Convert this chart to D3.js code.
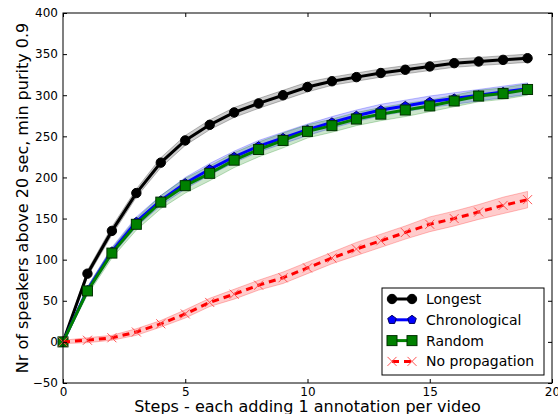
<!DOCTYPE html>
<html>
<head>
<meta charset="utf-8">
<script src="https://d3js.org/d3.v7.min.js"></script>
<style>
  body { margin: 0; background: #fff; }
  text { font-family: "DejaVu Sans", sans-serif; fill: #000; }
</style>
</head>
<body>
<div id="chart"></div>
<script>
var svgWidth = 558;
var svgHeight = 414;

var margin = { top: 13, right: 6, bottom: 31, left: 63 };
var width = svgWidth - margin.left - margin.right;
var height = svgHeight - margin.top - margin.bottom;

// data
var steps = d3.range(0, 20);
var longest = [0, 83, 135, 181, 218, 245, 264, 279, 290, 300, 310, 317, 322, 327, 331, 335, 339, 341, 343, 345];
var longestErr = [1, 4, 5, 5, 6, 6, 6, 6, 6, 6, 6, 5, 5, 5, 5, 5, 5, 5, 5, 5];
var chrono = [0, 63, 110, 146, 172, 193, 210, 225, 238, 248, 258, 267, 275, 282, 287, 292, 296, 300, 304, 308];
var chronoErr = [1, 4, 5, 6, 6, 7, 7, 7, 7, 7, 7, 7, 7, 7, 7, 7, 7, 7, 7, 7];
var random = [0, 62, 108, 143, 170, 190, 205, 221, 234, 245, 256, 263, 271, 277, 282, 287, 293, 299, 302, 307];
var randomErr = [1, 5, 6, 7, 8, 9, 9, 9, 9, 9, 8, 8, 8, 8, 8, 7, 7, 7, 7, 7];
var noprop = [0, 2, 5, 12, 22, 34, 48, 58, 69, 78, 90, 102, 113, 123, 133, 143, 150, 158, 166, 173];
var nopropErr = [2, 3, 3, 4, 4, 5, 5, 6, 6, 7, 7, 7, 8, 8, 8, 9, 9, 9, 10, 10];

var xTicks = [0, 5, 10, 15, 20];
var yTicks = [-50, 0, 50, 100, 150, 200, 250, 300, 350, 400];

var series = [
  { name: "Longest", values: longest, err: longestErr, color: "#000000", marker: "circle", dash: null },
  { name: "Chronological", values: chrono, err: chronoErr, color: "#0000ff", marker: "pentagon", dash: null },
  { name: "Random", values: random, err: randomErr, color: "#008000", marker: "square", dash: null },
  { name: "No propagation", values: noprop, err: nopropErr, color: "#ff0000", marker: "x", dash: "7,5" }
];

var svg = d3.select("#chart")
  .append("svg")
  .attr("width", svgWidth)
  .attr("height", svgHeight);

var chartGroup = svg.append("g")
  .attr("transform", `translate(${margin.left}, ${margin.top})`);

var xScale = d3.scaleLinear().domain([0, 20]).range([0, width]);
var yScale = d3.scaleLinear().domain([-50, 400]).range([height, 0]);

var plot = chartGroup.append("g");

// bands first, then lines
series.forEach(function(s) {
  var area = d3.area()
    .x((d, i) => xScale(steps[i]))
    .y0((d, i) => yScale(d - s.err[i]))
    .y1((d, i) => yScale(d + s.err[i]));
  plot.append("path")
    .datum(s.values)
    .attr("d", area)
    .attr("fill", s.color)
    .attr("fill-opacity", 0.2)
    .attr("stroke", s.color)
    .attr("stroke-opacity", 0.25)
    .attr("stroke-width", 1);
});

function drawMarker(g, type, color, x, y) {
  if (type === "circle") {
    g.append("circle").attr("cx", x).attr("cy", y).attr("r", 4.7)
      .attr("fill", color).attr("stroke", "#000").attr("stroke-width", 1);
  } else if (type === "square") {
    g.append("rect").attr("x", x - 5).attr("y", y - 5).attr("width", 10).attr("height", 10)
      .attr("fill", color).attr("stroke", "#003000").attr("stroke-width", 1);
  } else if (type === "pentagon") {
    var pts = d3.range(5).map(function(k) {
      var a = -Math.PI / 2 + k * 2 * Math.PI / 5;
      return [x + 4.5 * Math.cos(a), y + 4.5 * Math.sin(a)];
    });
    g.append("path").attr("d", "M" + pts.join("L") + "Z")
      .attr("fill", color).attr("stroke", "#000060").attr("stroke-width", 1);
  } else if (type === "x") {
    var r = 4.5;
    g.append("path")
      .attr("d", `M${x - r},${y - r}L${x + r},${y + r}M${x - r},${y + r}L${x + r},${y - r}`)
      .attr("stroke", "#ff5050").attr("stroke-width", 1).attr("fill", "none");
  }
}

series.forEach(function(s) {
  var line = d3.line()
    .x((d, i) => xScale(steps[i]))
    .y(d => yScale(d));
  plot.append("path")
    .datum(s.values)
    .attr("d", line)
    .attr("fill", "none")
    .attr("stroke", s.color)
    .attr("stroke-width", 3)
    .attr("stroke-dasharray", s.dash);
  var mg = plot.append("g");
  s.values.forEach(function(v, i) {
    drawMarker(mg, s.marker, s.color, xScale(steps[i]), yScale(v));
  });
});

// axes with inward ticks on all four sides
var bottomAxis = d3.axisBottom(xScale).tickValues(xTicks).tickSizeInner(-4).tickSizeOuter(0).tickPadding(4);
var topAxis = d3.axisTop(xScale).tickValues(xTicks).tickSizeInner(-4).tickSizeOuter(0).tickFormat("");
var leftAxis = d3.axisLeft(yScale).tickValues(yTicks).tickSizeInner(-4).tickSizeOuter(0).tickPadding(5)
  .tickFormat(d => d < 0 ? "\u2212" + Math.abs(d) : d);
var rightAxis = d3.axisRight(yScale).tickValues(yTicks).tickSizeInner(-4).tickSizeOuter(0).tickFormat("");

[
  chartGroup.append("g").attr("transform", `translate(0, ${height})`).call(bottomAxis),
  chartGroup.append("g").call(topAxis),
  chartGroup.append("g").call(leftAxis),
  chartGroup.append("g").attr("transform", `translate(${width}, 0)`).call(rightAxis)
].forEach(function(ax) {
  ax.select(".domain").remove();
  ax.selectAll("line").attr("stroke", "#000");
  ax.selectAll("text").style("font-size", "12px").style("font-family", "DejaVu Sans, sans-serif");
});

chartGroup.append("rect")
  .attr("width", width).attr("height", height)
  .attr("fill", "none").attr("stroke", "#000").attr("stroke-width", 1);

// axis labels
chartGroup.append("text")
  .attr("x", width / 2)
  .attr("y", height + 29)
  .attr("text-anchor", "middle")
  .style("font-size", "16px")
  .text("Steps - each adding 1 annotation per video");

chartGroup.append("text")
  .attr("transform", "rotate(-90)")
  .attr("x", -height / 2)
  .attr("y", -35)
  .attr("text-anchor", "middle")
  .style("font-size", "16px")
  .text("Nr of speakers above 20 sec, min purity 0.9");

// legend
var legend = svg.append("g").attr("transform", "translate(382, 288)");
legend.append("rect")
  .attr("width", 162).attr("height", 87)
  .attr("fill", "#fff").attr("stroke", "#000").attr("stroke-width", 1);

series.forEach(function(s, i) {
  var yy = 11 + i * 20.8;
  var row = legend.append("g");
  row.append("line")
    .attr("x1", 10).attr("x2", 30).attr("y1", yy).attr("y2", yy)
    .attr("stroke", s.color).attr("stroke-width", 3)
    .attr("stroke-dasharray", s.dash);
  drawMarker(row, s.marker, s.color, 10, yy);
  drawMarker(row, s.marker, s.color, 30, yy);
  row.append("text")
    .attr("x", 44).attr("y", yy + 5)
    .style("font-size", "14px")
    .text(s.name);
});
</script>
</body>
</html>
